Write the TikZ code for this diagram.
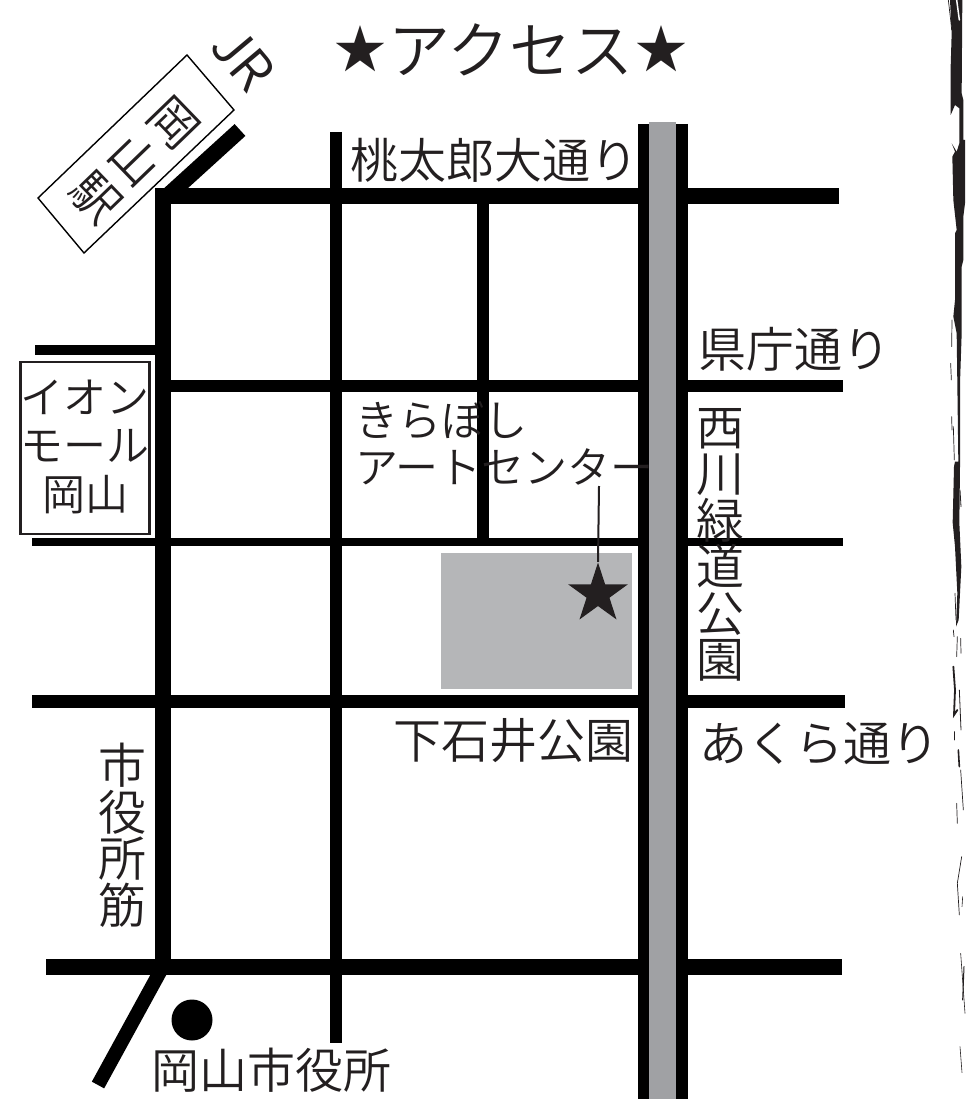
\documentclass[tikz,border=0pt]{standalone}
\usepackage{fontspec}
\setmainfont{Noto Sans CJK JP DemiLight}
\usetikzlibrary{shapes.geometric}
\definecolor{ink}{HTML}{231F20}
\definecolor{roadgray}{HTML}{A0A1A4}
\definecolor{blockgray}{HTML}{B5B6B8}
\newcommand{\titlestar}{\raisebox{5pt}{\fontsize{52}{52}\selectfont ★}}
\tikzset{
  x=1pt,y=-1pt,
  road/.style={black,line width=#1},
  lbl/.style={text=ink,inner sep=0pt,font=\fontsize{48}{48}\selectfont},
  lblsm/.style={text=ink,inner sep=0pt,font=\fontsize{43}{43}\selectfont},
  stack/.style={text=ink,inner sep=0pt,align=center,font=\fontsize{48}{46.5}\selectfont},
  brush/.style={fill=ink,draw=none},
  sliver/.style={draw=ink,line cap=round},
  wsliver/.style={draw=white,line cap=round},
}
\begin{document}
\begin{tikzpicture}
\useasboundingbox (0,0) rectangle (967,1099);
\fill[white] (0,0) rectangle (967,1099);
% horizontal roads
\draw[road=16] (155,196) -- (839,196);
\draw[road=12] (163,386) -- (843,386);
\draw[road=10] (35,350) -- (160,350);
\draw[road=8] (32,542) -- (843,542);
\draw[road=13] (32,701) -- (845,701);
\draw[road=16] (46,967) -- (842,967);
% vertical roads
\draw[road=16] (163,193) -- (163,975);
\draw[road=12] (336,132) -- (336,1043);
\draw[road=12] (483,196) -- (483,540);
\draw[road=12] (644,124) -- (644,1099);
\draw[road=12] (682,124) -- (682,1099);
\fill[roadgray] (649,122) rectangle (676,1099);
% diagonals
\draw[road=16] (163,200) -- (240,130);
\draw[road=14] (161,970) -- (98,1085);
% block, star
\fill[blockgray] (441,553) rectangle (632,689);
\node[star,star points=5,star point ratio=2.618,fill=ink,inner sep=0pt,minimum size=63pt] (star) at (598,594) {};
% station box
\draw[line width=1.4pt,fill=white] (187,55) -- (234,110) -- (84,253) -- (38,198) -- cycle;
\node[stack,rotate=-46,font=\fontsize{48}{54}\selectfont] (station) at (134,161) {岡\\山\\駅};
\node[lbl,rotate=-50,font=\fontsize{54}{54}\selectfont] (jr) at (243,59) {JR};
% title
\node[text=ink,inner sep=0pt,font=\fontsize{62}{62}\selectfont] (title) at (511,50) {\titlestar\hspace{2pt}アクセス\hspace{2pt}\titlestar};
% labels
\node[lbl] (momotaro) at (494,160) {桃太郎大通り};
\node[lbl] (kencho) at (794,349) {県庁通り};
\node[lbl] (akura) at (819,744) {あくら通り};
\node[lbl] (park) at (513,741) {下石井公園};
\node[lbl] (cityhall) at (271,1070) {岡山市役所};
\node[stack] (nishi) at (720,545) {西\\川\\緑\\道\\公\\園};
\node[stack] (shiyaku) at (122,835) {市\\役\\所\\筋};
\node[lblsm,anchor=west] (kira) at (355,420) {きらぼし};
\node[lblsm,anchor=west] (art) at (355,467) {アートセンター};
% mall
\draw[ink,line width=2.4pt,fill=white] (20.5,362) rectangle (149.5,534);
\node[lblsm] (aeon) at (85,397) {イオン};
\node[lblsm] (mall) at (85,446) {モール};
\node[lblsm] (oka) at (85,495) {岡山};
% leader
\coordinate (ldr) at (599,486);
\draw[ink,line width=2pt] (ldr) -- (star.north);
% city hall marker
\node[circle,fill=black,inner sep=0pt,minimum size=41pt] (dot) at (192,1020) {};
% brush line on the right (zoom coordinates)
\begin{scope}[shift={(900,0)},x=0.3333pt,y=-0.3333pt]
\fill[brush] (150,0) -- (155,100) -- (152,200) -- (152,345) -- (165,315) -- (178,325) -- (178,430)
 -- (170,455) -- (155,430) -- (165,455) -- (157,470) -- (160,600) -- (170,690) -- (165,700) -- (165,900)
 -- (160,950) -- (170,1000) -- (172,1150) -- (175,1385) -- (165,1385) -- (162,1400) -- (158,1568)
 -- (165,1640) -- (172,1780) -- (168,1880) -- (176,1860) -- (184,1700) -- (178,1568)
 -- (180,1400) -- (180,1150) -- (185,1000) -- (185,800) -- (190,780) -- (190,650) -- (195,610) -- (195,420) -- (190,420) -- (190,300) -- (185,280) -- (187,0) -- cycle;
\draw[wsliver,line width=1.5pt] (170,0) -- (178,60);
\draw[sliver,line width=0.7pt] (145,0) -- (152,60) -- (155,90);
\draw[sliver,line width=0.7pt] (156,960) -- (155,1040);
\draw[sliver,line width=0.7pt] (152,1090) -- (154,1140);
\draw[sliver,line width=0.7pt] (155,1250) -- (156,1290);
\draw[sliver,line width=0.7pt] (160,1280) -- (163,1380);
\draw[sliver,line width=0.8pt] (180,1470) -- (183,1520);
\begin{scope}[yshift=-550pt]
\draw[sliver,line width=0.7pt] (165,130) -- (168,210);
\draw[sliver,line width=0.7pt] (160,240) -- (162,260);
\draw[sliver,line width=0.7pt] (172,260) -- (170,320);
\draw[sliver,line width=0.7pt] (182,265) -- (183,310);
\draw[sliver,line width=1.8pt] (160,350) -- (165,420) -- (162,495) -- (172,480);
\draw[sliver,line width=0.8pt] (178,420) -- (183,540);
\draw[sliver,line width=0.7pt] (162,545) -- (162,570);
\draw[sliver,line width=1.6pt] (175,600) -- (178,650);
\draw[sliver,line width=0.7pt] (182,660) -- (190,780);
\draw[sliver,line width=0.7pt] (170,760) -- (172,820);
\draw[sliver,line width=0.7pt] (185,920) -- (172,1000) -- (178,1095);
\draw[sliver,line width=0.6pt] (188,1040) -- (186,1070);
\draw[sliver,line width=1pt] (192,1250) -- (188,1350);
\draw[sliver,line width=0.6pt] (182,1210) -- (195,1390);
\draw[sliver,line width=0.6pt] (180,1490) -- (186,1568);
\end{scope}
\end{scope}
\end{tikzpicture}
\end{document}
